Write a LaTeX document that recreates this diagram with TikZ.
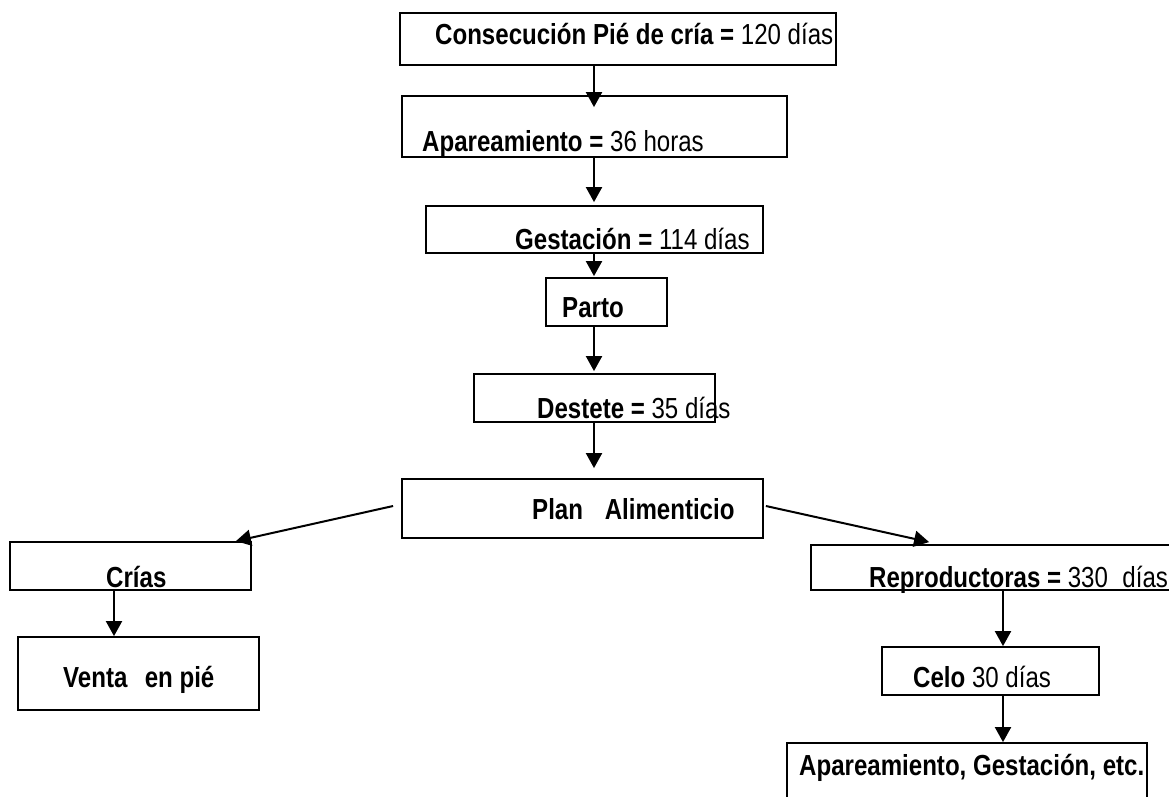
\documentclass[tikz,border=0pt]{standalone}
\usepackage{fontspec}
\setmainfont{Liberation Sans}[FakeStretch=0.83]
\usetikzlibrary{arrows.meta,calc}
\tikzset{
  box/.style={draw=black, line width=1.8pt, inner sep=0pt, fill=none},
  lbl/.style={anchor=base west, inner sep=0pt, font=\fontsize{29}{31}\selectfont},
  arr/.style={draw=black, line width=2pt, -{Triangle[width=16pt,length=15pt]}}
}
\begin{document}
\begin{tikzpicture}[x=1pt,y=-1pt]
\useasboundingbox (0,0) rectangle (1169,797);
% boxes
\node[box, minimum width=436pt, minimum height=52pt] (b1) at (618,39) {};
\node[box, minimum width=385pt, minimum height=61pt] (b2) at (594.5,126.5) {};
\node[box, minimum width=337pt, minimum height=47pt] (b3) at (594.5,229.5) {};
\node[box, minimum width=121pt, minimum height=48pt] (b4) at (606.5,302) {};
\node[box, minimum width=241pt, minimum height=48pt] (b5) at (594.5,398) {};
\node[box, minimum width=361pt, minimum height=59pt] (b6) at (582.5,508.5) {};
\node[box, minimum width=241pt, minimum height=48pt] (b7) at (130.5,566) {};
\node[box, minimum width=241pt, minimum height=73pt] (b8) at (138.5,673.5) {};
\node[box, minimum width=360pt, minimum height=45pt] (b9) at (991,567.5) {};
\node[box, minimum width=217pt, minimum height=48pt] (b10) at (990.5,671) {};
\node[box, minimum width=360pt, minimum height=64pt] (b11) at (967,775) {};
% texts
\node[lbl] (t1) at (435,45) {\textbf{Consecución Pié de cría =} 120 días};
\node[lbl] (t2) at (422,151) {\textbf{Apareamiento =} 36 horas};
\node[lbl] (t3) at (515,249) {\textbf{Gestación =} 114 días};
\node[lbl] (t4) at (562,317) {\textbf{Parto}};
\node[lbl] (t5) at (537,418) {\textbf{Destete =} 35 días};
\node[lbl] (t6) at (532,519) {\textbf{Plan\hspace{0.75em}Alimenticio}};
\node[lbl] (t7) at (106,587) {\textbf{Crías}};
\node[lbl] (t8) at (63,687) {\textbf{Venta\hspace{0.6em}en pié}};
\node[lbl] (t9) at (869,587) {\textbf{Reproductoras =} 330\hspace{0.5em}días};
\node[lbl] (t10) at (913,687) {\textbf{Celo} 30 días};
\node[lbl] (t11) at (799,775) {\textbf{Apareamiento, Gestación, etc.}};
% connector columns
\coordinate (cx) at (594,0);
\coordinate (lx) at (114,0);
\coordinate (rx) at (1003,0);
% connectors
\draw[arr, shorten >=-12pt] (b1.south -| cx) -- (b2.north -| cx);
\draw[arr, shorten >=3pt] (b2.south -| cx) -- (b3.north -| cx);
\draw[arr, shorten >=1pt] (b3.south -| cx) -- (b4.north -| cx);
\draw[arr, shorten >=2pt] (b4.south -| cx) -- (b5.north -| cx);
\draw[arr, shorten >=10pt] (b5.south -| cx) -- (b6.north -| cx);
\draw[arr] ($(b6.west)+(-8,-2.5)$) -- ($(b7.north east)+(-16,0)$);
\draw[arr] ($(b6.east)+(2,-2.5)$) -- ($(b9.north west)+(119,-2)$);
\draw[arr] (b7.south -| lx) -- (b8.north -| lx);
\draw[arr] (b9.south -| rx) -- (b10.north -| rx);
\draw[arr] (b10.south -| rx) -- (b11.north -| rx);
\end{tikzpicture}
\end{document}
